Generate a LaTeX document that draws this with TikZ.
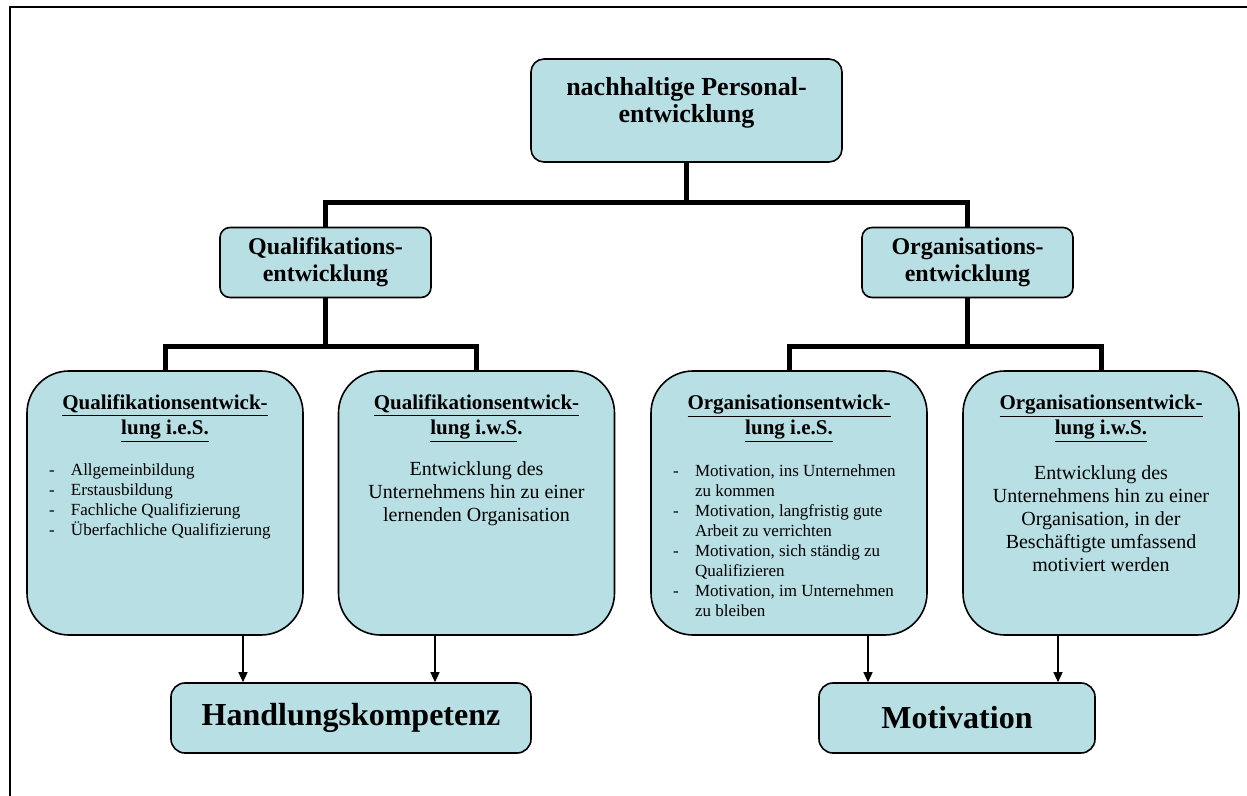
\documentclass[tikz,border=0pt]{standalone}
\usepackage{fontspec}
\setmainfont{Liberation Serif}
\usepackage{tikz}
\usetikzlibrary{arrows.meta,positioning}
\usepackage{xcolor}
\definecolor{cBox}{RGB}{184,223,228}
% text block inside a box, anchored at its top
\newcommand{\feld}[3]{\parbox[c][#2][t]{#1}{#3}}
\newcommand{\kopf}[1]{{\fontsize{10.5}{12.5}\selectfont\bfseries #1\par}}
\newcommand{\punkt}[1]{\hangindent=22pt\hangafter=1\noindent\hspace*{11pt}\makebox[11pt][l]{-}#1\par}

\begin{document}
\begin{tikzpicture}[x=0.5pt, y=-0.5pt,
    kasten/.style={draw=black, fill=cBox, line width=0.8pt, inner sep=0pt, align=center},
    oben/.style={kasten, rounded corners=6.5pt},
    ebene/.style={kasten, rounded corners=5pt, minimum width=105.5pt, minimum height=35pt,
      font=\fontsize{12}{13.5}\selectfont\bfseries},
    feldbox/.style={kasten, rounded corners=21pt},
    ziel/.style={kasten, rounded corners=7pt, minimum height=35pt,
      font=\fontsize{16}{18}\selectfont\bfseries},
    baum/.style={line width=2.5pt},
    pfeil/.style={line width=0.7pt, -{Triangle[length=5pt,width=4.5pt]}}]
  \useasboundingbox (0,0) rectangle (1247,796);
  % Frame
  \draw[line width=1pt] (10,796) -- (10,7.5) -- (1247,7.5);
  % Top
  \node[oben] (pe) at (686.5,110.5) {\feld{155.5pt}{51.5pt}{\centering\vspace*{9.4pt}%
    \fontsize{13}{13.5}\selectfont\bfseries nachhaltige Personal-\\entwicklung\par}};
  % Second level
  \node[ebene] (qe) at (325.5,262.5) {Qualifikations-\\entwicklung};
  \node[ebene] (oe) at (967.5,262.5) {Organisations-\\entwicklung};
  % Third level
  \node[feldbox] (qa) at (165,503) {\feld{138pt}{132pt}{\centering\vspace*{11.8pt}%
    \kopf{\underline{Qualifikationsentwick-}\\\underline{lung i.e.S.}}\vspace{9.5pt}%
    \raggedright\fontsize{8.5}{10}\selectfont
    \punkt{Allgemeinbildung}
    \punkt{Erstausbildung}
    \punkt{Fachliche Qualifizierung}
    \punkt{Überfachliche Qualifizierung}}};
  \node[feldbox] (qb) at (476.5,503) {\feld{138pt}{132pt}{\centering\vspace*{11.8pt}%
    \kopf{\underline{Qualifikationsentwick-}\\\underline{lung i.w.S}.}\vspace{9pt}%
    \fontsize{10}{11.5}\selectfont Entwicklung des\\Unternehmens hin zu einer\\lernenden Organisation\par}};
  \node[feldbox] (oa) at (789,503) {\feld{138pt}{132pt}{\centering\vspace*{11.8pt}%
    \kopf{\underline{Organisationsentwick-}\\\underline{lung i.e.S.}}\vspace{10pt}%
    \raggedright\fontsize{8.5}{10}\selectfont
    \punkt{Motivation, ins Unternehmen\newline zu kommen}
    \punkt{Motivation, langfristig gute\newline Arbeit zu verrichten}
    \punkt{Motivation, sich ständig zu\newline Qualifizieren}
    \punkt{Motivation, im Unternehmen\newline zu bleiben}}};
  \node[feldbox] (ob) at (1101,503) {\feld{138pt}{132pt}{\centering\vspace*{11.8pt}%
    \kopf{\underline{Organisationsentwick-}\\\underline{lung i.w.S.}}\vspace{11pt}%
    \fontsize{10}{11.5}\selectfont Entwicklung des\\Unternehmens hin zu einer\\Organisation, in der\\
    Beschäftigte umfassend\\motiviert werden\par}};
  % Goals
  \node[ziel, minimum width=180pt] (hk) at (351,718) {Handlungskompetenz};
  \node[ziel, minimum width=138pt] (mo) at (957,718) {Motivation};
  % Tree
  \coordinate (v1) at (686.5,203);
  \coordinate (v2) at (325.5,347);
  \coordinate (v3) at (967.5,347);
  \draw[baum] (pe) -- (v1) -| (qe);
  \draw[baum] (v1) -| (oe);
  \draw[baum] (qe) -- (v2) -| (qa);
  \draw[baum] (v2) -| (qb);
  \draw[baum] (oe) -- (v3) -| (oa);
  \draw[baum] (v3) -| (ob);
  % Arrows
  \draw[pfeil] ([xshift=39pt]qa.south) -- ([xshift=39pt]qa.south |- hk.north);
  \draw[pfeil] ([xshift=-20.75pt]qb.south) -- ([xshift=-20.75pt]qb.south |- hk.north);
  \draw[pfeil] ([xshift=39.5pt]oa.south) -- ([xshift=39.5pt]oa.south |- mo.north);
  \draw[pfeil] ([xshift=-21.5pt]ob.south) -- ([xshift=-21.5pt]ob.south |- mo.north);
\end{tikzpicture}
\end{document}
